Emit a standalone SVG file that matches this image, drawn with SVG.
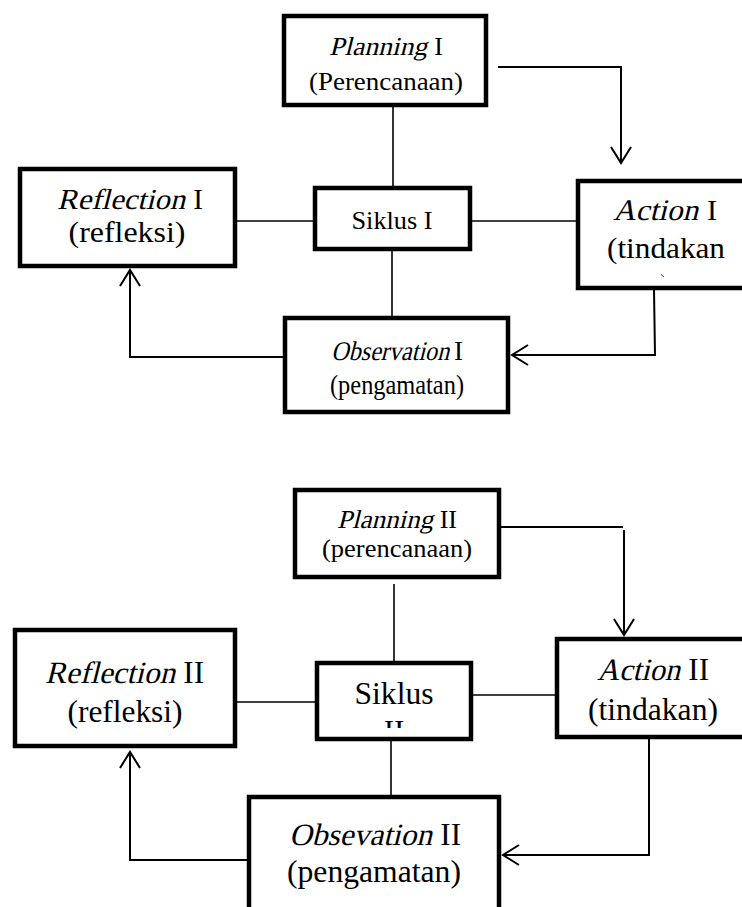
<svg xmlns="http://www.w3.org/2000/svg" width="742" height="907" viewBox="0 0 742 907">
<style>
.box{fill:#fff;stroke:#000;stroke-width:4.5}
.ln{fill:none;stroke:#000;stroke-width:1.6}
.ar{fill:none;stroke:#000;stroke-width:2}
text{font-family:"Liberation Serif","Times New Roman",serif;fill:#000;text-anchor:middle}
.st{text-anchor:start}
.en{text-anchor:end}
</style>
<defs>
<marker id="arr" markerUnits="userSpaceOnUse" markerWidth="24" markerHeight="24" refX="18" refY="12" orient="auto" overflow="visible">
<path d="M2,2 L18,12 L2,22" fill="none" stroke="#000" stroke-width="2"/>
</marker>
<clipPath id="clipS2"><rect x="317" y="663" width="154" height="65"/></clipPath>
</defs>
<rect width="742" height="907" fill="#fff"/>
<g id="connectors">
<path class="ar" d="M498,67 L621,67 L621,163" marker-end="url(#arr)"/>
<path class="ln" d="M393,107 L393,186"/>
<path class="ln" d="M237,221 L313,221"/>
<path class="ln" d="M472,221 L576,221"/>
<path class="ln" d="M392,251 L392,316"/>
<path class="ar" d="M654,290 L655,355 L512,355" marker-end="url(#arr)"/>
<path class="ar" d="M283,357 L130,357 L130,270" marker-end="url(#arr)"/>
<path class="ar" d="M501,527 L623,527"/>
<path class="ar" d="M624,530 L624,635" marker-end="url(#arr)"/>
<path class="ln" d="M394,584 L394,661"/>
<path class="ln" d="M237,702 L315,702"/>
<path class="ln" d="M473,695 L555,695"/>
<path class="ln" d="M391,741 L391,795"/>
<path class="ar" d="M649,739 L649,855 L503,855" marker-end="url(#arr)"/>
<path class="ar" d="M247,860 L130,860 L130,752" marker-end="url(#arr)"/>
</g>
<g id="planning1">
<rect class="box" x="284" y="16" width="202" height="89"/>
<text class="st" transform="translate(329,55) skewX(-14)" font-size="26" textLength="98" lengthAdjust="spacingAndGlyphs">Planning</text>
<text class="en" x="443" y="55" font-size="26">I</text>
<text x="386" y="90" font-size="26" textLength="154" lengthAdjust="spacingAndGlyphs">(Perencanaan)</text>
</g>
<g id="reflection1">
<rect class="box" x="20" y="169" width="215" height="97"/>
<text class="st" transform="translate(57,209) skewX(-14)" font-size="29" textLength="128" lengthAdjust="spacingAndGlyphs">Reflection</text>
<text class="en" x="203" y="209" font-size="29">I</text>
<text x="127" y="242" font-size="29" textLength="117" lengthAdjust="spacingAndGlyphs">(refleksi)</text>
</g>
<g id="siklus1">
<rect class="box" x="315" y="188" width="155" height="61"/>
<text x="392" y="229" font-size="25" textLength="81" lengthAdjust="spacingAndGlyphs">Siklus I</text>
</g>
<g id="action1">
<rect class="box" x="578" y="181" width="170" height="107"/>
<text class="st" transform="translate(613,220) skewX(-14)" font-size="30" textLength="85" lengthAdjust="spacingAndGlyphs">Action</text>
<text class="en" x="717" y="220" font-size="30">I</text>
<text x="666" y="258" font-size="30" textLength="118" lengthAdjust="spacingAndGlyphs">(tindakan</text>
<path d="M661,274.5 L664,277" stroke="#555" stroke-width="1" fill="none"/>
</g>
<g id="observation1">
<rect class="box" x="285" y="318" width="223" height="94"/>
<text class="st" transform="translate(331,360) skewX(-14)" font-size="27" textLength="118" lengthAdjust="spacingAndGlyphs">Observation</text>
<text class="en" x="463" y="360" font-size="27">I</text>
<text x="397" y="394" font-size="27" textLength="134" lengthAdjust="spacingAndGlyphs">(pengamatan)</text>
</g>
<g id="planning2">
<rect class="box" x="295" y="490" width="204" height="87"/>
<text class="st" transform="translate(337,528) skewX(-14)" font-size="26" textLength="96" lengthAdjust="spacingAndGlyphs">Planning</text>
<text class="en" x="457" y="528" font-size="26">II</text>
<text x="397" y="557" font-size="26" textLength="150" lengthAdjust="spacingAndGlyphs">(perencanaan)</text>
</g>
<g id="reflection2">
<rect class="box" x="15" y="630" width="220" height="116"/>
<text class="st" transform="translate(45,683) skewX(-14)" font-size="31" textLength="130" lengthAdjust="spacingAndGlyphs">Reflection</text>
<text class="en" x="204" y="683" font-size="31">II</text>
<text x="125" y="722" font-size="31" textLength="115" lengthAdjust="spacingAndGlyphs">(refleksi)</text>
</g>
<g id="siklus2">
<rect class="box" x="317" y="663" width="154" height="76"/>
<text x="394" y="704" font-size="31" textLength="79" lengthAdjust="spacingAndGlyphs">Siklus</text>
<text x="394" y="742" font-size="31" clip-path="url(#clipS2)">II</text>
</g>
<g id="action2">
<rect class="box" x="557" y="639" width="190" height="98"/>
<text class="st" transform="translate(597,680) skewX(-14)" font-size="31" textLength="83" lengthAdjust="spacingAndGlyphs">Action</text>
<text class="en" x="709" y="680" font-size="31">II</text>
<text x="653" y="720" font-size="31" textLength="130" lengthAdjust="spacingAndGlyphs">(tindakan)</text>
</g>
<g id="observation2">
<rect class="box" x="249" y="797" width="250" height="125"/>
<text class="st" transform="translate(289,845) skewX(-14)" font-size="31" textLength="143" lengthAdjust="spacingAndGlyphs">Obsevation</text>
<text class="en" x="461" y="845" font-size="31">II</text>
<text x="374" y="882" font-size="31" textLength="174" lengthAdjust="spacingAndGlyphs">(pengamatan)</text>
</g>
</svg>
